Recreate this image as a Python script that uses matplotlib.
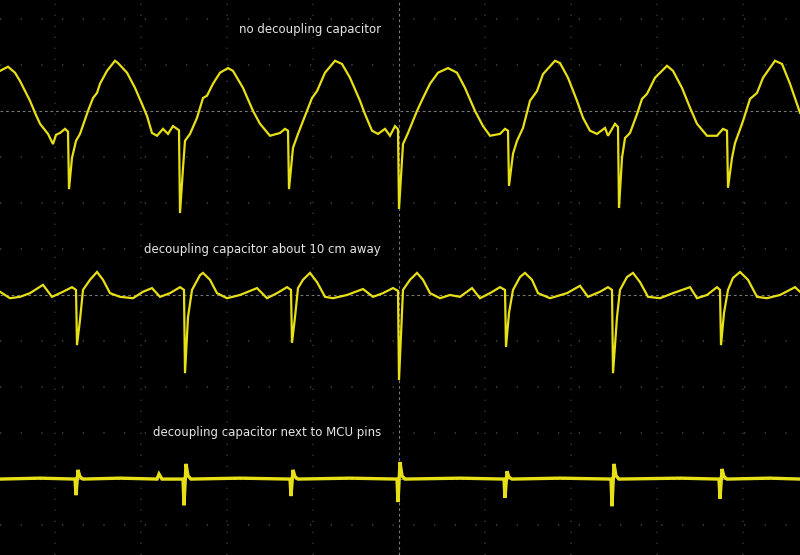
import numpy as np
import matplotlib.pyplot as plt

# screen record: sample index 0..800, amplitude in divisions around each trace's centre line
top_t = [0, 8, 15, 20, 30, 35, 40, 48, 53, 56, 60, 65, 68, 69, 72, 76, 80, 88, 93, 97, 100, 107, 115, 118,
         127, 135, 142, 147, 152, 157, 163, 168, 173, 177, 179, 180, 183, 185, 190, 197, 203, 207, 213, 220,
         228, 233, 243, 253, 260, 270, 280, 285, 288, 289, 293, 298, 305, 312, 317, 325, 335, 342, 350, 360,
         365, 372, 378, 385, 390, 395, 398, 399, 403, 408, 417, 423, 430, 438, 448, 457, 465, 475, 483, 490,
         500, 505, 508, 509, 513, 517, 523, 530, 537, 543, 555, 560, 568, 577, 583, 590, 597, 605, 608, 615,
         618, 619, 622, 625, 630, 637, 642, 647, 655, 667, 673, 682, 690, 697, 707, 717, 723, 727, 728, 732,
         735, 743, 750, 757, 763, 775, 782, 790, 800]
top_v = [0.87, 0.96, 0.83, 0.65, 0.22, -0.04, -0.28, -0.50, -0.72, -0.52, -0.48, -0.39, -0.45, -1.70, -1.02,
         -0.65, -0.50, 0.00, 0.28, 0.39, 0.59, 0.87, 1.09, 1.04, 0.83, 0.50, 0.15, -0.11, -0.48, -0.54, -0.39,
         -0.50, -0.33, -0.39, -0.42, -2.22, -1.24, -0.65, -0.50, -0.15, 0.28, 0.33, 0.59, 0.83, 0.93, 0.87,
         0.50, 0.00, -0.28, -0.54, -0.48, -0.39, -0.43, -1.70, -0.80, -0.50, -0.11, 0.28, 0.43, 0.83, 1.09,
         1.02, 0.72, 0.22, -0.07, -0.43, -0.50, -0.39, -0.54, -0.33, -0.40, -2.13, -0.72, -0.48, 0.00, 0.28,
         0.59, 0.83, 0.93, 0.83, 0.50, 0.00, -0.33, -0.54, -0.50, -0.39, -0.43, -1.63, -0.93, -0.65, -0.37,
         0.22, 0.43, 0.80, 1.09, 1.04, 0.72, 0.22, -0.15, -0.43, -0.50, -0.37, -0.54, -0.28, -0.35, -2.11,
         -1.02, -0.59, -0.48, -0.07, 0.26, 0.37, 0.72, 0.98, 0.87, 0.50, 0.07, -0.28, -0.54, -0.54, -0.39,
         -0.43, -1.67, -1.02, -0.70, -0.22, 0.26, 0.39, 0.72, 1.09, 1.02, 0.59, -0.04]

mid_t = [0, 10, 20, 30, 43, 52, 63, 72, 76, 77, 80, 83, 90, 97, 103, 110, 120, 133, 143, 152, 160, 170, 180,
         184, 185, 188, 192, 200, 203, 210, 217, 227, 240, 257, 267, 277, 287, 291, 292, 295, 298, 303, 310,
         317, 325, 333, 347, 363, 373, 383, 393, 398, 399, 403, 410, 417, 423, 430, 440, 450, 460, 472, 480,
         490, 500, 505, 506, 509, 513, 520, 525, 532, 538, 550, 567, 580, 588, 600, 608, 612, 613, 617, 620,
         627, 633, 640, 648, 660, 673, 690, 697, 707, 717, 720, 721, 724, 728, 733, 740, 748, 757, 767, 780,
         795, 800]
mid_v = [0.07, -0.07, -0.04, 0.04, 0.22, -0.04, 0.07, 0.17, 0.11, -1.09, -0.54, 0.11, 0.33, 0.50, 0.33, 0.04,
         -0.04, -0.07, 0.07, 0.15, -0.04, 0.04, 0.17, 0.11, -1.70, -0.48, 0.11, 0.43, 0.48, 0.33, 0.04, -0.07,
         0.00, 0.15, -0.07, 0.04, 0.17, 0.11, -1.04, -0.48, 0.15, 0.33, 0.48, 0.28, -0.04, -0.07, 0.00, 0.13,
         -0.04, 0.04, 0.15, 0.09, -1.85, 0.11, 0.33, 0.48, 0.33, 0.04, -0.07, 0.00, -0.04, 0.15, -0.07, 0.04,
         0.17, 0.11, -1.13, -0.39, 0.11, 0.39, 0.48, 0.33, 0.04, -0.07, 0.04, 0.20, -0.04, 0.07, 0.17, 0.11,
         -1.70, -0.48, 0.11, 0.39, 0.48, 0.28, -0.04, -0.07, 0.04, 0.17, -0.07, 0.00, 0.17, 0.11, -1.09, -0.39,
         0.11, 0.37, 0.50, 0.33, -0.04, -0.07, 0.00, 0.17, 0.07]

bot_t = [0, 40, 75, 76, 78, 80, 83, 120, 157, 159, 162, 183, 184, 186, 188, 191, 240, 290, 291, 293, 295, 298,
         350, 397, 398, 400, 402, 405, 460, 504, 505, 507, 509, 512, 560, 611, 612, 614, 616, 619, 680, 719,
         720, 722, 724, 727, 770, 800]
bot_v = [0.00, 0.02, 0.00, -0.35, 0.20, 0.05, 0.00, 0.02, 0.00, 0.11, 0.00, 0.00, -0.57, 0.33, 0.07, 0.00,
         0.02, 0.00, -0.37, 0.20, 0.05, 0.00, 0.02, 0.00, -0.50, 0.37, 0.07, 0.00, 0.02, 0.00, -0.41, 0.17,
         0.04, 0.00, 0.02, 0.00, -0.59, 0.33, 0.07, 0.00, 0.02, 0.00, -0.43, 0.22, 0.05, 0.00, 0.02, 0.00]

labels = ["no decoupling capacitor",
          "decoupling capacitor about 10 cm away",
          "decoupling capacitor next to MCU pins"]
offsets = [4, 0, -4]

trace_col = '#e8e016'
fig = plt.figure(figsize=(8, 5.55), dpi=100, facecolor='black')
ax = fig.add_axes([0, 0, 1, 1])
ax.set_facecolor('black')
ax.set_xlim(0, 800)
ax.set_ylim(-5.65, 6.41)
ax.axis('off')

# graticule
for k in range(-5, 7):
    if k in offsets:
        ax.axhline(k, color='#777777', lw=0.8, ls=(0, (2.5, 2.5)), zorder=1)
    else:
        ax.axhline(k, color='#3c3c3c', lw=1.2, ls=(0, (0.8, 11.6)), zorder=1)
for x in np.arange(399 - 4 * 86, 800, 86):
    if x == 399:
        ax.axvline(x, color='#777777', lw=0.8, ls=(0, (2.5, 2.5)), zorder=1)
    else:
        ax.axvline(x, color='#2c2c2c', lw=1.2, ls=(0, (0.8, 5.8)), zorder=1)

for t, v, off, w in [(top_t, top_v, offsets[0], 1.6), (mid_t, mid_v, offsets[1], 1.6),
                     (bot_t, bot_v, offsets[2], 2.4)]:
    ax.plot(t, np.array(v) + off, color=trace_col, lw=w, zorder=3, solid_joinstyle='miter')

for lab, ypos in zip(labels, [0.946, 0.551, 0.220]):
    ax.text(0.476, ypos, lab, transform=ax.transAxes, ha='right', va='center',
            color='#e6e6e6', fontsize=8.5, family='DejaVu Sans')

fig.savefig('out.png', dpi=100, facecolor='black')
